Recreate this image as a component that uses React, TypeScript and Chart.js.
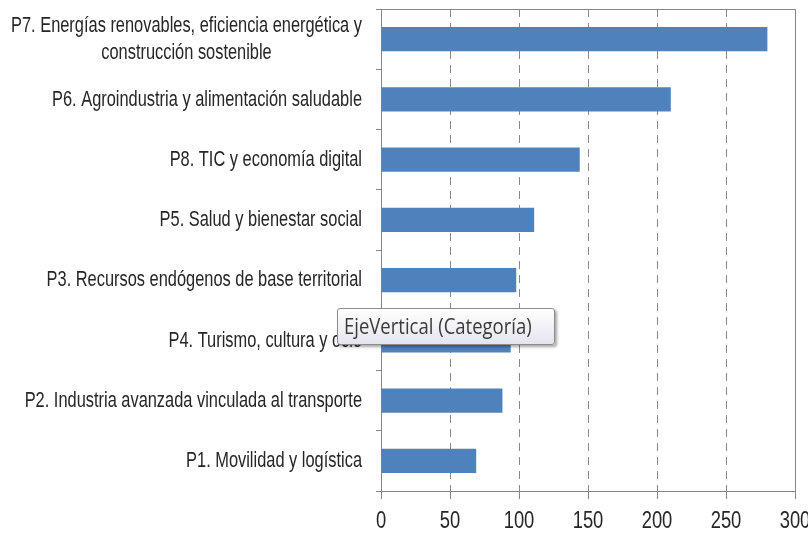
import React, { useEffect, useRef } from "react";
import { Chart, registerables } from "chart.js";

Chart.register(...registerables);

const categories: (string | string[])[] = [
  ["P7. Energías renovables, eficiencia energética y", "construcción sostenible"],
  "P6. Agroindustria y alimentación saludable",
  "P8. TIC y economía digital",
  "P5. Salud y bienestar social",
  "P3. Recursos endógenos de base territorial",
  "P4. Turismo, cultura y ocio",
  "P2. Industria avanzada vinculada al transporte",
  "P1. Movilidad y logística",
];
const values: number[] = [280, 210, 144, 111, 98, 94, 88, 69];
const xMin = 0;
const xMax = 300;
const xStep = 50;
const tooltipText = "EjeVertical (Categoría)";

const BAR = "#4F81BD";
const AXIS = "#868686";
const GRID = "#8a8a8a";
const TEXT = "#262626";
const FONT = '"Liberation Sans Narrow", "Liberation Sans", Arial, sans-serif';
const FS = 20;
const STRETCH_Y = 1.12;
const LABEL_SX = 0.82;
const TICK_SX = 0.92;
const LINE_H = 27;

const textPlugin = {
  id: "customText",
  afterDraw(chart: any) {
    const ctx = chart.ctx;
    const ys = chart.scales.y;
    const xs = chart.scales.x;
    const area = chart.chartArea;
    ctx.save();
    // frame top & right
    ctx.strokeStyle = AXIS;
    ctx.lineWidth = 1;
    ctx.setLineDash([]);
    ctx.beginPath();
    ctx.moveTo(area.left, Math.round(area.top) + 0.5);
    ctx.lineTo(Math.round(area.right) + 0.5, Math.round(area.top) + 0.5);
    ctx.lineTo(Math.round(area.right) + 0.5, area.bottom);
    ctx.stroke();

    ctx.fillStyle = TEXT;
    ctx.font = `${FS}px ${FONT}`;
    ctx.textBaseline = "middle";
    ctx.textAlign = "center";
    categories.forEach((lab, i) => {
      const cy = ys.getPixelForValue(i);
      const lines = Array.isArray(lab) ? lab : [lab];
      const maxW = Math.max(...lines.map((l) => ctx.measureText(l).width)) * LABEL_SX;
      const right = area.left - 19;
      const cx = right - maxW / 2;
      lines.forEach((l, k) => {
        const ly = cy + (k - (lines.length - 1) / 2) * LINE_H;
        ctx.save();
        ctx.translate(cx, ly);
        ctx.scale(LABEL_SX, STRETCH_Y);
        ctx.fillText(l, 0, 0);
        ctx.restore();
      });
    });
    xs.ticks.forEach((t: any, i: number) => {
      const px = xs.getPixelForTick(i);
      ctx.save();
      ctx.translate(px, area.bottom + 30);
      ctx.scale(TICK_SX, STRETCH_Y * 1.08);
      ctx.fillText(String(t.value), 0, 0);
      ctx.restore();
    });
    ctx.restore();
  },
};

export default function App() {
  const ref = useRef<HTMLCanvasElement | null>(null);
  useEffect(() => {
    if (!ref.current) return;
    const chart = new Chart(ref.current, {
      type: "bar",
      data: {
        labels: categories,
        datasets: [
          {
            data: values,
            backgroundColor: BAR,
            borderWidth: 0,
            barPercentage: 0.4,
            categoryPercentage: 1,
          },
        ],
      },
      options: {
        indexAxis: "y",
        animation: false,
        responsive: false,
        maintainAspectRatio: false,
        layout: { padding: { top: 9, right: 13, left: 0, bottom: 0 } },
        plugins: { legend: { display: false }, tooltip: { enabled: false } },
        scales: {
          x: {
            min: xMin,
            max: xMax,
            ticks: { stepSize: xStep, color: "rgba(0,0,0,0)", font: { size: 6, family: FONT } },
            grid: {
              color: (c: any) =>
                c.tick && (c.tick.value === xMin || c.tick.value === xMax) ? "rgba(0,0,0,0)" : GRID,
              tickColor: AXIS,
              tickLength: 8,
              tickBorderDash: [],
            },
            border: { color: AXIS, width: 1, dash: [8, 6] },
            afterFit: (s: any) => {
              s.height = 44;
            },
          },
          y: {
            ticks: { color: "rgba(0,0,0,0)", font: { size: 6, family: FONT } },
            grid: {
              drawOnChartArea: false,
              tickColor: AXIS,
              tickLength: 5,
            },
            border: { color: AXIS, width: 1 },
            afterFit: (s: any) => {
              s.width = 381;
            },
          },
        },
      },
      plugins: [textPlugin],
    });
    return () => chart.destroy();
  }, []);

  return (
    <div
      style={{
        position: "absolute",
        left: 0,
        top: 0,
        width: 808,
        height: 535,
        background: "#fff",
      }}
    >
      <canvas ref={ref} width={808} height={535} style={{ display: "block" }} />
      <div
        style={{
          position: "absolute",
          left: 337,
          top: 308,
          width: 218,
          height: 37,
          boxSizing: "border-box",
          border: "1px solid #8c8c8c",
          borderRadius: 3,
          background: "linear-gradient(#ffffff, #e4e4ee)",
          boxShadow: "2px 2px 3px rgba(0,0,0,0.35)",
          fontFamily: '"Open Sans", "Noto Sans", sans-serif',
          fontSize: 18.5,
          color: "#3a3a3a",
          whiteSpace: "nowrap",
          overflow: "hidden",
        }}
      >
        <div
          style={{
            position: "absolute",
            left: 6,
            top: 3,
            transform: "scaleY(1.22)",
            transformOrigin: "left top",
            lineHeight: "22px",
          }}
        >
          {tooltipText}
        </div>
      </div>
    </div>
  );
}
